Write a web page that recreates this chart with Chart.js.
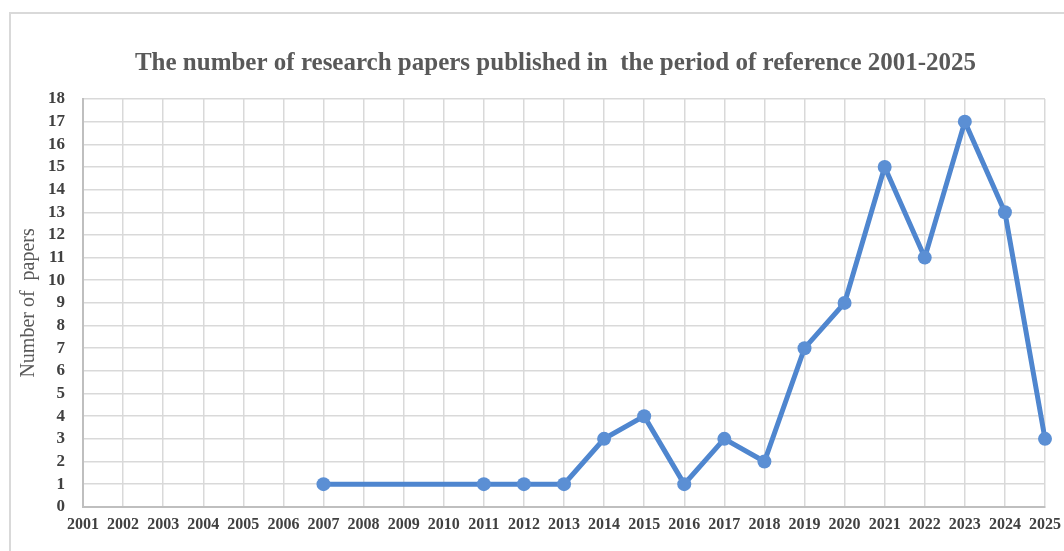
<!DOCTYPE html>
<html>
    <head>
        <title>Research papers 2001-2025</title>
        <script src="https://cdn.jsdelivr.net/npm/chart.js@4.4.1/dist/chart.umd.min.js"></script>
        <style>
            body { margin: 0; background: #fff; }
            .wrap { position: relative; width: 1064px; height: 551px; }
            .frame { position: absolute; left: 9px; top: 12px; width: 1100px; height: 600px; border-left: 2px solid #d9d9d9; border-top: 2px solid #d9d9d9; }
            canvas { position: absolute; left: 0; top: 0; }
        </style>
    </head>
    <body>
        <div class="wrap">
            <div class="frame"></div>
            <canvas id="chart1" width="1064" height="551"></canvas>
        </div>
    </body>
    <script>
        const years = ['2001','2002','2003','2004','2005','2006','2007','2008','2009','2010','2011','2012','2013',
                       '2014','2015','2016','2017','2018','2019','2020','2021','2022','2023','2024','2025'];
        const papers = [null,null,null,null,null,null,1,null,null,null,1,1,1,3,4,1,3,2,7,9,15,11,17,13,3];
        const yTicks = [0,1,2,3,4,5,6,7,8,9,10,11,12,13,14,15,16,17,18];

        const serif = "'Liberation Serif', 'DejaVu Serif', serif";
        Chart.defaults.font.family = serif;

        // title sits a bit right of the canvas centre in the original
        const shiftTitle = {
            id: 'shiftTitle',
            afterLayout(chart) {
                if (chart.titleBlock) {
                    chart.titleBlock.left += 30;
                }
            }
        };

        var ctx = document.getElementById('chart1').getContext('2d');
        var chart1 = new Chart(ctx, {
            type: 'line',
            data: {
                labels: years,
                datasets: [{
                    label: 'Number of papers',
                    data: papers,
                    borderColor: '#4f86cf',
                    backgroundColor: '#5b8fd4',
                    borderWidth: 5,
                    pointRadius: 7,
                    pointBorderWidth: 0,
                    pointBackgroundColor: '#5b8fd4',
                    spanGaps: true,
                    tension: 0
                }, {
                    label: 'centre',
                    data: papers,
                    showLine: false,
                    pointRadius: 1.6,
                    pointBorderWidth: 0,
                    pointBackgroundColor: '#2b4f7e'
                }]
            },
            plugins: [shiftTitle],
            options: {
                responsive: false,
                animation: false,
                layout: { padding: { left: 17, right: 0, top: 49, bottom: 9 } },
                plugins: {
                    legend: { display: false },
                    tooltip: { enabled: false },
                    title: {
                        display: true,
                        text: 'The number of research papers published in  the period of reference 2001-2025',
                        color: '#595959',
                        font: { size: 25, weight: 'bold', family: serif },
                        padding: { top: 0, bottom: 20 }
                    }
                },
                scales: {
                    x: {
                        type: 'category',
                        offset: false,
                        afterFit: (s) => { s.paddingRight = 19; },
                        grid: { color: '#d9d9d9', lineWidth: 1.5, drawTicks: false },
                        border: { color: '#bfbfbf', width: 2 },
                        ticks: { color: '#404040', font: { size: 16, weight: 'bold' }, maxRotation: 0, autoSkip: false, padding: 8 }
                    },
                    y: {
                        min: 0,
                        max: 18,
                        afterBuildTicks: (s) => { s.ticks = yTicks.map(v => ({ value: v })); },
                        afterFit: (s) => { s.width = 66; },
                        grid: { color: '#d9d9d9', lineWidth: 1.5, drawTicks: false },
                        border: { color: '#bfbfbf', width: 2 },
                        ticks: { color: '#404040', font: { size: 17, weight: 'bold' }, padding: 18, autoSkip: false },
                        title: {
                            display: true,
                            text: 'Number of  papers',
                            color: '#595959',
                            font: { size: 20, family: serif },
                            padding: { top: 0, bottom: 0 }
                        }
                    }
                }
            }
        });
    </script>
</html>
